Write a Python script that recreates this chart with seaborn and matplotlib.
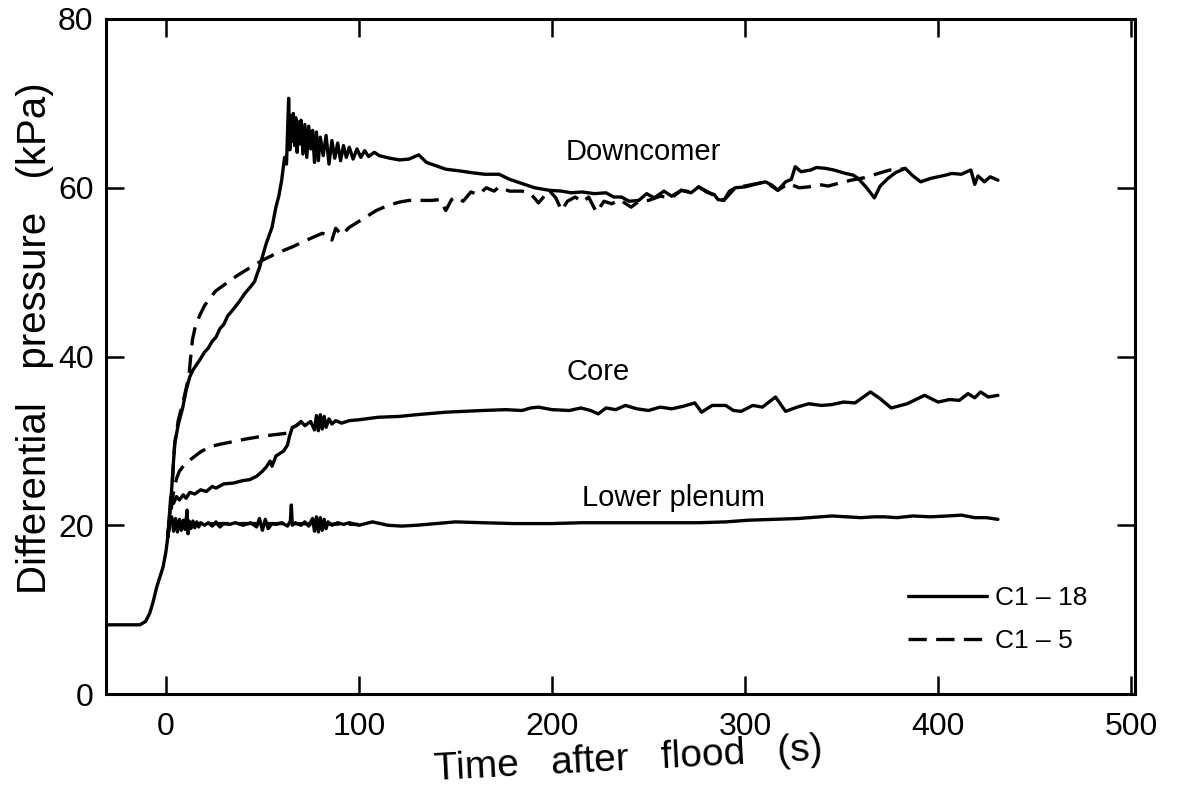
import numpy as np
import pandas as pd
import matplotlib
matplotlib.use("Agg")
import matplotlib.pyplot as plt
import seaborn as sns
from matplotlib.lines import Line2D

# ---------------- data (time s, differential pressure kPa) ----------------
downcomer_c118 = [(-31, 8.2), (-13.4, 8.2), (-10.5, 8.6), (-8.3, 9.6), (-6.5, 11.0), (-4.7, 12.7),
    (-3, 13.9), (-1.5, 15.0), (0, 16.8), (1, 18.6), (2.5, 22.5), (4.6, 29.7), (6.5, 32.0),
    (8.8, 34.0), (10.5, 36.0), (12.4, 37.6), (14, 38.4), (15.5, 38.9), (17.6, 39.6), (20, 40.5),
    (22, 41.0), (24, 41.8), (26, 42.3), (28, 43.3), (30, 43.8), (32, 44.8), (34.6, 45.5),
    (38, 46.5), (41, 47.5), (44, 48.3), (46, 48.9), (47, 49.6), (48.6, 50.6), (50, 51.8),
    (52, 53.4), (55, 55.3), (57, 57.7), (58.5, 59.0), (60, 60.9), (61.5, 63.6), (62.5, 62.8),
    (63.6, 70.6), (64.2, 64.5), (64.8, 68.5), (65.4, 65.5), (66.0, 68.8), (66.7, 65.0),
    (67.3, 68.3), (68.0, 64.2), (68.7, 67.8), (69.4, 65.2), (70.0, 68.0), (71.0, 64.0),
    (72.0, 67.5), (73.0, 63.6), (74.0, 67.3), (75.0, 64.6), (76.0, 66.8), (77.0, 63.0),
    (78.0, 66.6), (79.0, 63.2), (80.0, 66.0), (81.5, 63.8), (83.0, 66.2), (84.5, 62.8),
    (86.0, 65.6), (87.5, 63.5), (89.0, 65.3), (90.5, 63.2), (92.0, 65.0), (93.5, 63.6),
    (95.0, 64.8), (97.0, 63.4), (99.0, 64.6), (101.0, 63.6), (103.0, 64.4), (105.0, 63.7),
    (108.0, 64.2), (110.6, 63.8), (116, 63.5), (121, 63.3), (126, 63.4), (131, 63.9),
    (135, 63.0), (140, 62.6), (145, 62.2), (152, 62.0), (158, 61.8), (165, 61.6), (172.6, 61.6),
    (178, 61.0), (184.5, 60.5), (191, 60.0), (198.5, 59.7), (205, 59.6), (210, 59.4),
    (215.5, 59.5), (222, 59.3), (228, 59.4), (232, 58.9), (236, 58.9), (240, 58.4), (245, 58.5),
    (249, 59.3), (253, 58.8), (258, 59.6), (262, 59.0), (267, 59.7), (272, 59.4), (276, 60.1),
    (280, 59.5), (284, 59.2), (286, 58.6), (289, 58.5), (292, 59.6), (295, 60.0), (300, 60.1),
    (305, 60.4), (310.6, 60.7), (314, 60.3), (317, 59.7), (321, 60.7), (324, 61.0), (326, 62.5),
    (329, 61.9), (334, 62.1), (337, 62.4), (341.6, 62.3), (346, 62.1), (352, 61.7), (356, 61.5),
    (358.6, 61.1), (363, 60.0), (367, 58.8), (370, 60.2), (374, 61.1), (378, 61.8), (383, 62.3),
    (387, 61.4), (391, 60.7), (396, 61.1), (400, 61.3), (404, 61.5), (407, 61.7), (412, 61.6),
    (417, 62.1), (419, 60.4), (420.7, 61.4), (424, 60.7), (427, 61.3), (431, 60.9)]

downcomer_c15 = [(1, 18.6), (2.5, 22.0), (4.6, 29.7), (6.5, 32.5), (8.8, 34.5), (10.5, 36.2),
    (12.0, 37.8), (12.8, 39.8), (13.8, 42.0), (15.3, 43.6), (17.6, 44.9), (20, 46.0), (22.7, 46.9),
    (26, 47.8), (31.5, 48.7), (37, 49.6), (43.4, 50.5), (50, 51.4), (57, 52.2), (65.6, 53.0),
    (73, 53.8), (81, 54.6), (84, 54.4), (86, 53.8), (88, 55.2), (91, 54.4), (95, 55.3),
    (102, 56.3), (109, 57.3), (115, 57.9), (121, 58.3), (126, 58.5), (132, 58.5), (138, 58.5),
    (142, 58.6), (145, 57.3), (148, 58.6), (150, 58.9), (154, 58.4), (158, 59.5), (162, 59.2),
    (166, 60.0), (170, 59.6), (172.6, 60.1), (178, 59.6), (184.5, 59.6), (189, 59.3),
    (193, 58.2), (196, 59.0), (198.5, 59.7), (202, 58.8), (205, 57.3), (208, 58.4), (212, 58.9),
    (216, 58.3), (219, 58.9), (223, 57.1), (227, 58.4), (231, 58.1), (235, 58.6), (241, 57.7),
    (245, 58.4), (250, 58.5), (256, 59.0), (262, 58.8), (267, 59.7), (272, 59.5), (276, 60.1),
    (280, 59.6), (286, 58.8), (289, 58.5), (295, 60.0), (302, 60.3), (310.6, 60.7), (317, 59.7),
    (322.5, 60.5), (328, 60.0), (333, 60.1), (338, 60.4), (343, 60.2), (348, 60.5), (355, 60.9),
    (362, 61.2), (369, 61.7), (375, 62.1), (379, 62.1), (383, 62.3)]

core_c118 = [(1, 18.6), (2.5, 23.3), (4, 22.6), (5.5, 23.4), (7, 23.0), (9, 23.6), (10.5, 23.2),
    (12.4, 23.9), (15, 23.7), (18, 24.2), (21, 24.0), (24, 24.6), (26, 24.4), (30, 24.9),
    (35, 25.0), (40, 25.3), (43.4, 25.4), (47, 25.8), (50, 26.4), (52, 26.9), (54, 27.6),
    (55, 27.0), (57, 28.2), (59, 28.5), (61, 28.8), (63, 29.5), (64, 30.5), (65.5, 31.6),
    (67.6, 31.8), (70, 32.3), (72, 31.8), (75, 32.3), (77, 31.3), (78, 33.0), (79, 31.2),
    (80, 33.1), (81, 31.4), (82, 32.9), (83, 31.6), (84.5, 32.6), (86, 32.0), (88, 32.4),
    (91, 32.1), (95, 32.4), (100, 32.5), (110, 32.8), (121, 32.9), (129.7, 33.1), (145, 33.4),
    (164, 33.6), (176, 33.7), (184.5, 33.6), (189, 33.9), (193, 34.0), (200, 33.7), (209, 33.6),
    (215, 33.9), (220, 33.6), (224, 33.2), (228, 33.9), (233, 33.7), (238, 34.2), (244, 33.8),
    (250, 33.6), (256, 34.0), (262, 33.8), (268, 34.1), (274, 34.5), (277.5, 33.4), (283, 34.2),
    (290, 34.2), (294, 33.6), (298, 33.5), (304, 34.2), (309, 34.0), (315.8, 35.2), (321, 33.5),
    (327, 34.0), (333, 34.4), (339.5, 34.2), (345, 34.3), (351, 34.6), (357, 34.5), (365, 35.8),
    (370, 35.0), (375.7, 33.9), (384, 34.4), (393, 35.4), (400, 34.6), (406, 34.9), (411, 34.8),
    (415.5, 35.6), (419, 35.1), (422, 35.8), (426, 35.2), (431, 35.4)]

core_c15 = [(1, 18.6), (2.5, 21.5), (4, 24.0), (5.5, 25.5), (7, 26.4), (10, 27.3), (14, 28.0),
    (18, 28.7), (22.7, 29.3), (28, 29.6), (34.6, 29.9), (41, 30.2), (48.6, 30.5), (55, 30.7),
    (62.5, 30.9), (66, 31.6), (70, 32.2)]

plenum_c118 = [(1, 18.6), (2, 20.3), (3, 21.0), (4, 19.3), (5, 20.8), (6, 19.2), (7, 20.7),
    (8, 19.4), (9, 20.6), (10, 19.5), (11, 21.8), (11.5, 19.0), (12, 20.5), (13, 19.6),
    (14, 20.5), (15, 19.7), (16, 20.4), (17, 19.8), (18, 20.3), (20, 20.0), (22, 20.3),
    (24, 19.9), (26, 20.4), (28, 19.8), (30, 20.2), (33, 20.1), (36, 20.3), (40, 20.0),
    (44, 20.3), (47, 19.8), (48.5, 20.8), (50, 19.4), (51.5, 20.7), (53, 19.6), (55, 20.2),
    (57, 20.1), (60, 20.3), (63, 19.9), (64.5, 20.5), (65, 22.4), (65.5, 20.0), (67, 20.3),
    (70, 20.0), (72, 20.4), (74, 19.9), (76, 20.8), (77, 19.3), (78, 21.0), (79, 19.2),
    (80, 20.9), (81, 19.4), (82, 20.7), (83, 19.6), (84, 20.4), (86, 20.0), (89, 20.3),
    (92, 20.1), (95, 20.3), (100, 20.0), (107, 20.4), (115, 20.0), (122, 19.9), (130, 20.0),
    (140, 20.2), (150, 20.4), (164, 20.3), (180, 20.2), (200, 20.2), (215.6, 20.3), (240, 20.3),
    (260, 20.3), (276, 20.3), (290, 20.4), (302, 20.6), (315, 20.7), (327.6, 20.8), (345, 21.1),
    (360, 20.9), (367, 21.0), (372, 21.0), (378.6, 20.9), (387, 21.1), (396, 21.0), (405, 21.1),
    (412, 21.2), (419, 20.9), (425, 20.9), (431, 20.7)]

plenum_c15 = [(1, 18.6), (2, 20.3), (10, 20.1), (30, 20.2), (60, 20.2), (100, 20.1)]

runs = ["C1-18", "C1-5"]
legend_labels = ["C1 \u2013 18", "C1 \u2013 5"]
region_labels = ["Downcomer", "Core", "Lower plenum"]
x_ticks = [0, 100, 200, 300, 400, 500]
y_ticks = [0, 20, 40, 60, 80]

series = {("Downcomer", "C1-18"): downcomer_c118, ("Downcomer", "C1-5"): downcomer_c15,
          ("Core", "C1-18"): core_c118, ("Core", "C1-5"): core_c15,
          ("Lower plenum", "C1-18"): plenum_c118, ("Lower plenum", "C1-5"): plenum_c15}
rows = []
for (region, run), pts in series.items():
    for t, p in pts:
        rows.append({"time": t, "pressure": p, "region": region, "run": run})
df = pd.DataFrame(rows)

# ---------------- figure ----------------
sns.set_style("ticks")
plt.rcParams["font.family"] = ["Liberation Sans", "DejaVu Sans"]
plt.rcParams["text.color"] = "black"
plt.rcParams["axes.labelcolor"] = "black"

fig = plt.figure(figsize=(11.77, 7.91), dpi=100)
ax = fig.add_axes([106 / 1177, 1 - 694 / 791, (1135 - 106) / 1177, (694 - 19) / 791])

sns.lineplot(data=df, x="time", y="pressure", style="run", units="region",
             estimator=None, sort=False, color="black", linewidth=2.4,
             style_order=runs, dashes={"C1-18": "", "C1-5": (5.5, 2.8)},
             legend=False, ax=ax)

ax.set_xlim(-31, 502)
ax.set_ylim(0, 80)
ax.set_xticks(x_ticks)
ax.set_yticks(y_ticks)
ax.set_xticklabels([str(v) for v in x_ticks])
ax.set_yticklabels([str(v) for v in y_ticks])
ax.set_xlabel("")
ax.set_ylabel("")
for s in ax.spines.values():
    s.set_visible(True)
    s.set_linewidth(2.2)
    s.set_color("black")
ax.tick_params(axis="both", direction="in", top=True, right=True, length=13,
               width=1.8, labelsize=23, colors="black")
ax.tick_params(axis="x", pad=13)
ax.tick_params(axis="y", pad=9)

# region annotations
ax.text(247.5, 64.2, region_labels[0], fontsize=21, ha="center", va="center")
ax.text(224, 38.2, region_labels[1], fontsize=21, ha="center", va="center")
ax.text(263, 23.2, region_labels[2], fontsize=21, ha="center", va="center")

# legend
handles = [Line2D([], [], color="black", lw=2.4, linestyle="-"),
           Line2D([], [], color="black", lw=2.4, linestyle=(0, (5.5, 2.8)))]
ax.legend(handles, legend_labels, loc="upper left", bbox_to_anchor=(908 / 1177, 1 - 586 / 791),
          bbox_transform=fig.transFigure, frameon=False, fontsize=19, handlelength=3.0,
          handletextpad=0.3, labelspacing=0.72, borderpad=0, borderaxespad=0)

# axis titles (slightly tilted like the scanned original)
fig.text(628 / 1177, 1 - 760 / 791, "Time   after   flood   (s)", fontsize=28,
         ha="center", va="center", rotation=3)
fig.text(35 / 1177, 1 - 338 / 791, "Differential   pressure   (kPa)", fontsize=29,
         ha="center", va="center", rotation=90)

fig.savefig("out.png", dpi=100)
